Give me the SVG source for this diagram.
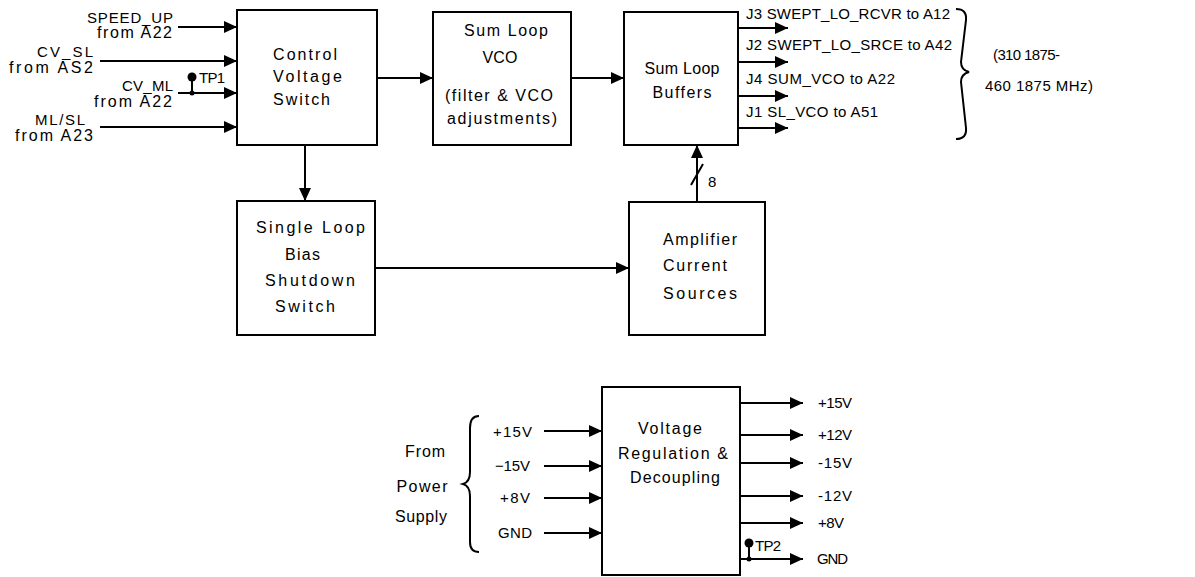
<svg xmlns="http://www.w3.org/2000/svg" width="1195" height="577" viewBox="0 0 1195 577">
<style>
  .box { fill: #fff; stroke: #000; stroke-width: 2; }
  .ln { fill: none; stroke: #000; stroke-width: 2; }
  .t { font-family: "Liberation Sans", Arial, sans-serif; font-size: 15px; fill: #000; }
  .b { font-size: 16px; }
  .e { text-anchor: end; }
  .m { text-anchor: middle; }
</style>
<defs>
  <marker id="arr" markerUnits="userSpaceOnUse" markerWidth="15" markerHeight="14" refX="13" refY="6" orient="auto">
    <path d="M0,0 L13,6 L0,12 z" fill="#000"/>
  </marker>
</defs>
<rect width="1195" height="577" fill="#fff"/>

<g id="connectors">
  <line class="ln" x1="178" y1="27" x2="237" y2="27" marker-end="url(#arr)"/>
  <line class="ln" x1="100" y1="61" x2="237" y2="61" marker-end="url(#arr)"/>
  <line class="ln" x1="178" y1="93" x2="237" y2="93" marker-end="url(#arr)"/>
  <line class="ln" x1="100" y1="127" x2="237" y2="127" marker-end="url(#arr)"/>
  <line class="ln" x1="377" y1="78" x2="433" y2="78" marker-end="url(#arr)"/>
  <line class="ln" x1="571" y1="78" x2="624" y2="78" marker-end="url(#arr)"/>
  <line class="ln" x1="738" y1="28" x2="788" y2="28" marker-end="url(#arr)"/>
  <line class="ln" x1="738" y1="62" x2="788" y2="62" marker-end="url(#arr)"/>
  <line class="ln" x1="738" y1="96" x2="788" y2="96" marker-end="url(#arr)"/>
  <line class="ln" x1="738" y1="128" x2="788" y2="128" marker-end="url(#arr)"/>
  <line class="ln" x1="305" y1="145" x2="305" y2="201" marker-end="url(#arr)"/>
  <line class="ln" x1="375" y1="268" x2="629" y2="268" marker-end="url(#arr)"/>
  <line class="ln" x1="697" y1="202" x2="697" y2="145" marker-end="url(#arr)"/>
  <line class="ln" x1="691" y1="185" x2="703" y2="164"/>
  <line class="ln" x1="544" y1="431" x2="602" y2="431" marker-end="url(#arr)"/>
  <line class="ln" x1="544" y1="466" x2="602" y2="466" marker-end="url(#arr)"/>
  <line class="ln" x1="544" y1="498" x2="602" y2="498" marker-end="url(#arr)"/>
  <line class="ln" x1="544" y1="533" x2="602" y2="533" marker-end="url(#arr)"/>
  <line class="ln" x1="740" y1="403" x2="803" y2="403" marker-end="url(#arr)"/>
  <line class="ln" x1="740" y1="435" x2="803" y2="435" marker-end="url(#arr)"/>
  <line class="ln" x1="740" y1="463" x2="803" y2="463" marker-end="url(#arr)"/>
  <line class="ln" x1="740" y1="496" x2="803" y2="496" marker-end="url(#arr)"/>
  <line class="ln" x1="740" y1="523" x2="803" y2="523" marker-end="url(#arr)"/>
  <line class="ln" x1="740" y1="559" x2="803" y2="559" marker-end="url(#arr)"/>
</g>

<g id="tp1">
  <line class="ln" x1="192" y1="77" x2="192" y2="93"/>
  <circle cx="192" cy="77" r="4.5" fill="#000"/>
  <circle cx="192" cy="93" r="2.5" fill="#000"/>
  <text class="t" x="199" y="83" textLength="26" lengthAdjust="spacing">TP1</text>
</g>

<g id="tp2">
  <line class="ln" x1="749" y1="543" x2="749" y2="559"/>
  <circle cx="749" cy="543" r="4.5" fill="#000"/>
  <circle cx="749" cy="559" r="2.5" fill="#000"/>
  <text class="t" x="755" y="551" textLength="26" lengthAdjust="spacing">TP2</text>
</g>

<g id="inputs">
  <text class="t e" x="173" y="23" textLength="86" lengthAdjust="spacing">SPEED_UP</text>
  <text class="t b e" x="172" y="38" textLength="75" lengthAdjust="spacing">from A22</text>
  <text class="t e" x="93" y="57" textLength="56" lengthAdjust="spacing">CV_SL</text>
  <text class="t b e" x="93" y="73" textLength="84" lengthAdjust="spacing">from AS2</text>
  <text class="t e" x="173" y="91" textLength="51" lengthAdjust="spacing">CV_ML</text>
  <text class="t b e" x="172" y="107" textLength="78" lengthAdjust="spacing">from A22</text>
  <text class="t e" x="85" y="125" textLength="50" lengthAdjust="spacing">ML/SL</text>
  <text class="t b e" x="93" y="141" textLength="78" lengthAdjust="spacing">from A23</text>
</g>

<g id="control-voltage-switch">
  <rect class="box" x="237" y="10" width="140" height="135"/>
  <text class="t b" x="273" y="60" textLength="64" lengthAdjust="spacing">Control</text>
  <text class="t b" x="273" y="82" textLength="69" lengthAdjust="spacing">Voltage</text>
  <text class="t b" x="273" y="105" textLength="57" lengthAdjust="spacing">Switch</text>
</g>

<g id="sum-loop-vco">
  <rect class="box" x="433" y="12" width="138" height="133"/>
  <text class="t b" x="464" y="36" textLength="84" lengthAdjust="spacing">Sum Loop</text>
  <text class="t b m" x="500" y="63" textLength="35" lengthAdjust="spacing">VCO</text>
  <text class="t b m" x="499" y="101" textLength="108" lengthAdjust="spacing">(filter &amp; VCO</text>
  <text class="t b m" x="502" y="124" textLength="110" lengthAdjust="spacing">adjustments)</text>
</g>

<g id="sum-loop-buffers">
  <rect class="box" x="624" y="12" width="114" height="133"/>
  <text class="t b m" x="682" y="74" textLength="75" lengthAdjust="spacing">Sum Loop</text>
  <text class="t b m" x="682" y="98" textLength="59" lengthAdjust="spacing">Buffers</text>
</g>

<g id="outputs">
  <text class="t" x="746" y="19" textLength="204" lengthAdjust="spacing">J3 SWEPT_LO_RCVR to A12</text>
  <text class="t" x="746" y="50" textLength="206" lengthAdjust="spacing">J2 SWEPT_LO_SRCE to A42</text>
  <text class="t" x="746" y="84" textLength="149" lengthAdjust="spacing">J4 SUM_VCO to A22</text>
  <text class="t" x="746" y="117" textLength="132" lengthAdjust="spacing">J1 SL_VCO to A51</text>
  <path class="ln" stroke-width="1.5" d="M956,9 Q967,9 966,20 L961,62 Q961,70 969,72 Q961,74 961,82 L966,128 Q967,139 956,139"/>
  <text class="t" x="993" y="60" textLength="67" lengthAdjust="spacing">(310 1875-</text>
  <text class="t" x="985" y="91" textLength="108" lengthAdjust="spacing">460 1875 MHz)</text>
</g>

<g id="single-loop-bias-shutdown-switch">
  <rect class="box" x="237" y="201" width="138" height="134"/>
  <text class="t b" x="256" y="233" textLength="109" lengthAdjust="spacing">Single Loop</text>
  <text class="t b" x="285" y="260" textLength="35" lengthAdjust="spacing">Bias</text>
  <text class="t b" x="265" y="286" textLength="90" lengthAdjust="spacing">Shutdown</text>
  <text class="t b" x="275" y="312" textLength="60" lengthAdjust="spacing">Switch</text>
</g>

<g id="amplifier-current-sources">
  <rect class="box" x="629" y="202" width="136" height="133"/>
  <text class="t b" x="663" y="245" textLength="74" lengthAdjust="spacing">Amplifier</text>
  <text class="t b" x="663" y="271" textLength="64" lengthAdjust="spacing">Current</text>
  <text class="t b" x="663" y="299" textLength="74" lengthAdjust="spacing">Sources</text>
  <text class="t" x="708" y="187">8</text>
</g>

<g id="voltage-regulation">
  <rect class="box" x="602" y="387" width="138" height="188"/>
  <text class="t b m" x="670" y="434" textLength="64" lengthAdjust="spacing">Voltage</text>
  <text class="t b m" x="673" y="459" textLength="110" lengthAdjust="spacing">Regulation &amp;</text>
  <text class="t b m" x="675" y="483" textLength="90" lengthAdjust="spacing">Decoupling</text>
</g>

<g id="power-inputs">
  <text class="t b m" x="425" y="457" textLength="40" lengthAdjust="spacing">From</text>
  <text class="t b m" x="422" y="492" textLength="51" lengthAdjust="spacing">Power</text>
  <text class="t b m" x="421" y="522" textLength="52" lengthAdjust="spacing">Supply</text>
  <path class="ln" stroke-width="1.5" d="M479,416 Q470,416 470,428 L470,472 Q470,482 463,484 Q470,486 470,496 L470,542 Q470,552 479,552"/>
  <text class="t e" x="532" y="437" textLength="39" lengthAdjust="spacing">+15V</text>
  <text class="t e" x="530" y="471" textLength="35" lengthAdjust="spacing">−15V</text>
  <text class="t e" x="530" y="503" textLength="30" lengthAdjust="spacing">+8V</text>
  <text class="t e" x="532" y="538" textLength="34" lengthAdjust="spacing">GND</text>
</g>

<g id="power-outputs">
  <text class="t" x="818" y="408" textLength="34" lengthAdjust="spacing">+15V</text>
  <text class="t" x="818" y="440" textLength="34" lengthAdjust="spacing">+12V</text>
  <text class="t" x="818" y="468" textLength="34" lengthAdjust="spacing">-15V</text>
  <text class="t" x="818" y="501" textLength="34" lengthAdjust="spacing">-12V</text>
  <text class="t" x="818" y="528" textLength="26" lengthAdjust="spacing">+8V</text>
  <text class="t" x="817" y="564" textLength="31" lengthAdjust="spacing">GND</text>
</g>
</svg>
